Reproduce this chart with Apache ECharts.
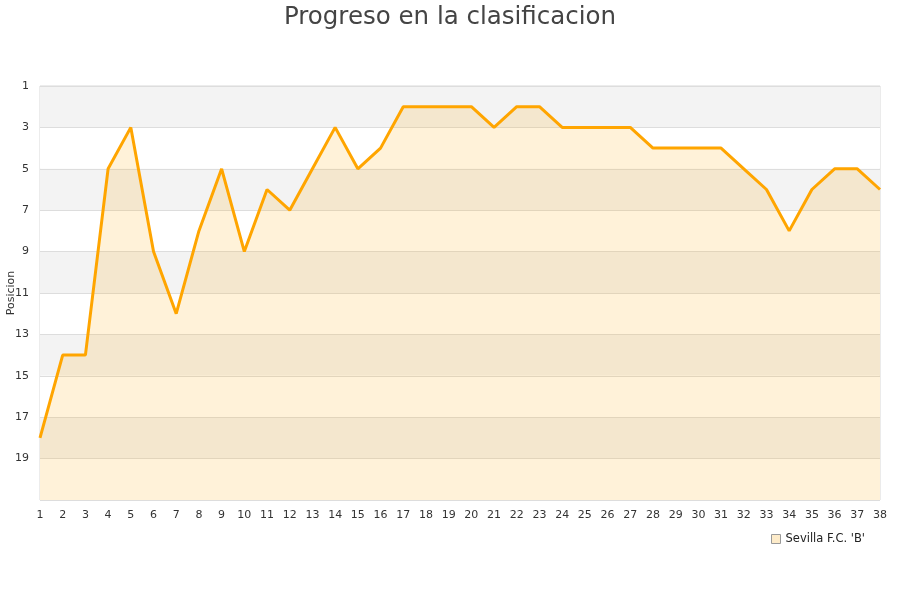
<!DOCTYPE html>
<html><head><meta charset="utf-8">
<script src="https://cdn.jsdelivr.net/npm/echarts@6/dist/echarts.min.js"></script>
<style>html,body{margin:0;padding:0;background:#fff}#c{width:900px;height:600px}</style>
</head><body><div id="c"></div>
<script>
const jornadas = [1,2,3,4,5,6,7,8,9,10,11,12,13,14,15,16,17,18,19,20,21,22,23,24,25,26,27,28,29,30,31,32,33,34,35,36,37,38];
const posiciones = [18,14,14,5,3,9,12,8,5,9,6,7,5,3,5,4,2,2,2,2,3,2,2,3,3,3,3,4,4,4,4,5,6,8,6,5,5,6];
const seriesName = "Sevilla F.C. 'B'";
const titleText = 'Progreso en la clasificacion';
const yName = 'Posicion';

const chart = echarts.init(document.getElementById('c'), null, {renderer:'canvas'});
chart.setOption({
  animation:false,
  backgroundColor:'#fff',
  title:{text:titleText,left:'center',top:0,textStyle:{fontFamily:'DejaVu Sans',fontSize:24.5,fontWeight:'normal',color:'#444'}},
  grid:{left:40,right:20,top:86,bottom:100,outerBoundsMode:'none',containLabel:false,show:true,borderColor:'#d8d8d8',borderWidth:1,backgroundColor:'transparent'},
  legend:{left:766,top:528,itemWidth:9,itemHeight:9,icon:'rect',itemGap:6,
    textStyle:{fontFamily:'DejaVu Sans',fontSize:11.5,color:'#222'},
    data:[{name:seriesName,itemStyle:{color:'#fdebc9',borderColor:'#999',borderWidth:1}}]},
  xAxis:{type:'value',min:1,max:38,interval:1,
    axisLine:{show:false},axisTick:{show:false},splitLine:{show:false},
    axisLabel:{fontFamily:'DejaVu Sans',fontSize:11,color:'#333',margin:10}},
  yAxis:{type:'value',inverse:true,min:1,max:21,interval:2,name:yName,nameLocation:'middle',nameGap:23,nameMoveOverlap:false,
    nameTextStyle:{fontFamily:'DejaVu Sans',fontSize:11,color:'#333'},
    axisLine:{show:false},axisTick:{show:false},
    axisLabel:{fontFamily:'DejaVu Sans',fontSize:11,color:'#333',margin:11,formatter:v=>v===21?'':v},
    splitLine:{show:true,lineStyle:{color:'#dddddd',width:1}},
    splitArea:{show:true,areaStyle:{color:['#f3f3f3','#ffffff']}}},
  series:[{name:seriesName,type:'line',data:jornadas.map((j,i)=>[j,posiciones[i]]),
    showSymbol:false,symbol:'none',
    lineStyle:{color:'#ffa500',width:3},itemStyle:{color:'#ffa500'},
    areaStyle:{color:'rgba(255,165,0,0.21)',origin:'end'}}]
});
</script></body></html>
